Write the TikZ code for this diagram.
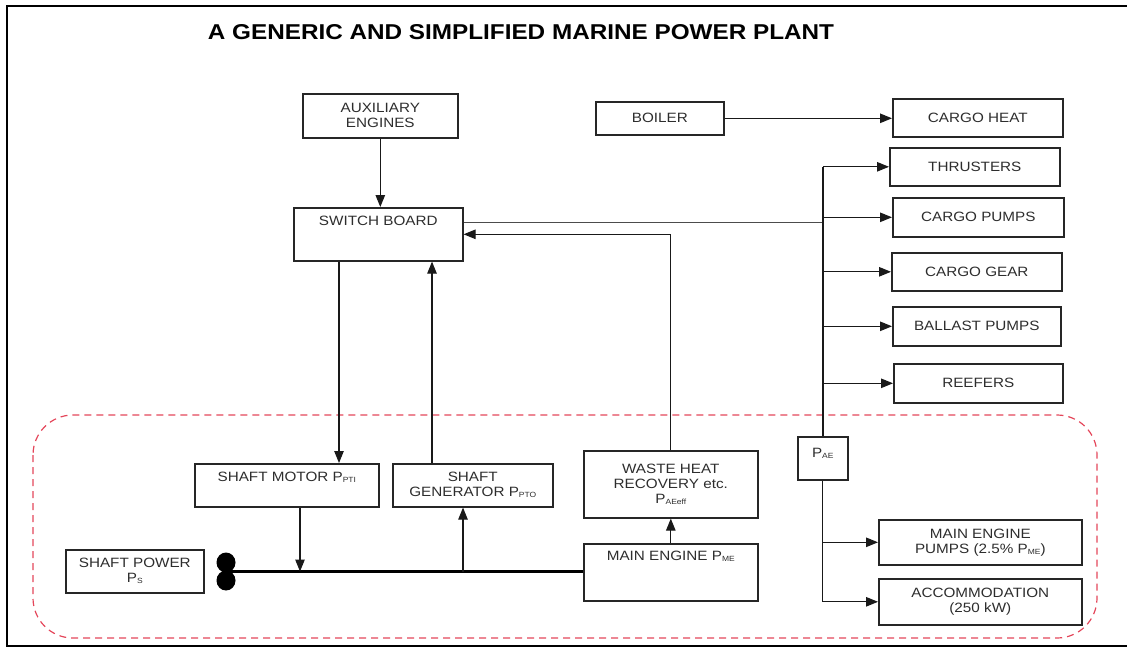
\documentclass[tikz,border=0pt]{standalone}
\usepackage{fontspec}
\setmainfont{Liberation Sans}
\newfontfamily\boxfont[FakeStretch=1.13]{Liberation Sans}
\usetikzlibrary{arrows.meta,calc}
\definecolor{dashred}{RGB}{228,70,90}
\definecolor{txtgray}{RGB}{45,45,45}
\newcommand{\subx}[1]{\raisebox{-1pt}{\fontsize{7.5}{8}\selectfont #1}}
\begin{document}
\begin{tikzpicture}[x=1pt,y=-1pt,
  box/.style={draw=black!85, line width=1.6pt, inner sep=0pt, anchor=north west, text=txtgray, font=\boxfont\fontsize{13.5}{15}\selectfont, align=center},
  lbl/.style={inner sep=0pt, text=txtgray, font=\boxfont\fontsize{13.5}{15}\selectfont, align=center},
  arr/.style={line width=1.1pt, draw=black!90, -{Triangle[length=12pt,width=9.5pt]}},
  ln/.style={line width=1.1pt, draw=black!90},
  thinln/.style={line width=0.9pt, draw=black!70},
  busln/.style={line width=1.8pt, draw=black!90},
  shaftln/.style={line width=3.5pt, draw=black},
  frameln/.style={line width=1.5pt, draw=black},
  zone/.style={draw=dashred, line width=1.2pt, dash pattern=on 7pt off 5pt, rounded corners=40pt}]
\useasboundingbox (0,0) rectangle (1127,648);
% frame
\draw[frameln] (1127,6) -- (7,6) -- (7,646) -- (1127,646);
% title
\node[inner sep=0pt] (title) at (521,32) {\resizebox{626pt}{15pt}{\bfseries A GENERIC AND SIMPLIFIED MARINE POWER PLANT}};
% dashed zone
\draw[zone] (33,415) rectangle (1097,638);
% boxes
\node[box, minimum width=155pt, minimum height=44pt] (ae) at (302,93) {AUXILIARY\\ENGINES};
\node[box, minimum width=169pt, minimum height=53pt] (sb) at (293,207) {};
\node[lbl] (sbt) at ($(sb.north)+(0,14)$) {SWITCH BOARD};
\node[box, minimum width=128pt, minimum height=33pt] (boiler) at (595,101) {BOILER};
\node[box, minimum width=170pt, minimum height=38pt] (cheat) at (892,98) {CARGO HEAT};
\node[box, minimum width=170pt, minimum height=38pt] (thr) at (889,147) {THRUSTERS};
\node[box, minimum width=171pt, minimum height=39pt] (cpumps) at (892,197) {CARGO PUMPS};
\node[box, minimum width=170pt, minimum height=38pt] (cgear) at (891,252) {CARGO GEAR};
\node[box, minimum width=168pt, minimum height=39pt] (ballast) at (892,306) {BALLAST PUMPS};
\node[box, minimum width=169pt, minimum height=39pt] (reefers) at (893,363) {REEFERS};
\node[box, minimum width=50pt, minimum height=43pt] (pae) at (797,436) {};
\node[lbl] (paet) at ($(pae.north)+(0,17)$) {P\subx{AE}};
\node[box, minimum width=174pt, minimum height=67pt] (whr) at (583,450) {WASTE HEAT\\RECOVERY etc.\\P\subx{AEeff}};
\node[box, minimum width=174pt, minimum height=57pt] (me) at (583,543) {};
\node[lbl] (met) at ($(me.north)+(0,13)$) {MAIN ENGINE P\subx{ME}};
\node[box, minimum width=203pt, minimum height=45pt] (mep) at (878,519) {MAIN ENGINE\\PUMPS (2.5\% P\subx{ME})};
\node[box, minimum width=203pt, minimum height=46pt] (acc) at (878,578) {ACCOMMODATION\\(250 kW)};
\node[box, minimum width=184pt, minimum height=43pt] (smotor) at (194,463) {};
\node[lbl] (smt) at ($(smotor.north)+(0,14)$) {SHAFT MOTOR P\subx{PTI}};
\node[box, minimum width=160pt, minimum height=43pt] (sgen) at (392,463) {SHAFT\\GENERATOR P\subx{PTO}};
\node[box, minimum width=138pt, minimum height=43pt] (spower) at (65,549) {SHAFT POWER\\P\subx{S}};
% propeller
\fill (226,562.5) ellipse [x radius=9.5pt, y radius=10pt];
\fill (226,580.5) ellipse [x radius=9.5pt, y radius=10pt];
\coordinate (prop) at (226,571.5);
% connectors
\draw[arr] (ae.south) -- (ae.south |- sb.north);
\draw[arr] (boiler.east) -- (boiler.east -| cheat.west);
\coordinate (sbout) at ($(sb.north east)+(0,15)$);
\draw[thinln] (sbout) -- (sbout -| pae.north);
\draw[arr] (whr.north) |- (sb.east);
\coordinate (bustop) at (pae.north |- thr.west);
\draw[busln] (bustop) -- (pae.north);
\draw[arr] (bustop) -- (thr.west);
\draw[arr] (pae.north |- cpumps.west) -- (cpumps.west);
\draw[arr] (pae.north |- cgear.west) -- (cgear.west);
\draw[arr] (pae.north |- ballast.west) -- (ballast.west);
\draw[arr] (pae.north |- reefers.west) -- (reefers.west);
\draw[ln] (pae.south) -- (pae.south |- acc.west);
\draw[arr] (pae.south |- mep.west) -- (mep.west);
\draw[arr] (pae.south |- acc.west) -- (acc.west);
\coordinate (sbA) at ($(sb.south west)+(46,0)$);
\coordinate (sbB) at ($(sb.south west)+(139,0)$);
\draw[arr] (sbA) -- (sbA |- smotor.north);
\draw[arr] (sbB |- sgen.north) -- (sbB);
\draw[arr] (me.north) -- (whr.south);
\draw[shaftln] (prop) -- (prop -| me.west);
\coordinate (smA) at ($(smotor.south west)+(106,0)$);
\coordinate (sgA) at ($(sgen.south west)+(71,0)$);
\draw[arr] (smA) -- (smA |- prop);
\draw[arr] (sgA |- prop) -- (sgA);
\end{tikzpicture}
\end{document}
